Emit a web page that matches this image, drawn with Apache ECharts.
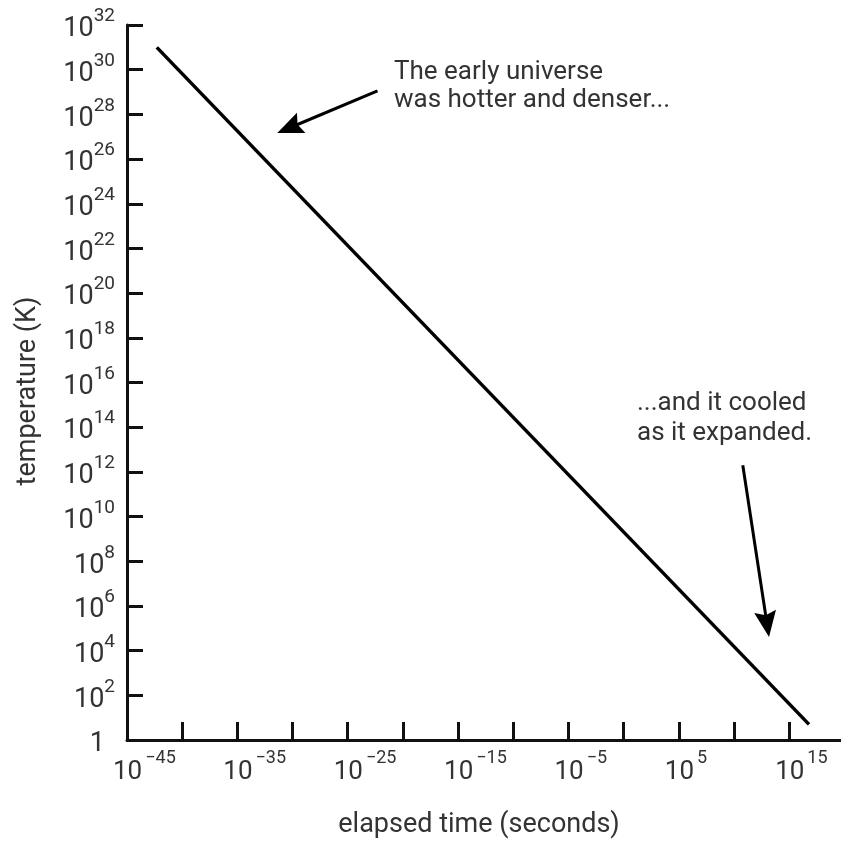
<!DOCTYPE html>
<html>
<head>
<meta charset="utf-8">
<script src="https://cdn.jsdelivr.net/npm/echarts@6/dist/echarts.min.js"></script>
<style>
  html, body { margin: 0; padding: 0; background: #fff; }
  #chart { width: 841px; height: 844px; }
</style>
</head>
<body>
<div id="chart"></div>
<script>
// exponents of ten (log10 of values)
var timeExp = [-42.3, 16.8];          // log10(elapsed time, s)
var tempExp = [31.0, 0.7];            // log10(temperature, K)
var xLabelExps = [-45, -35, -25, -15, -5, 5, 15];
var xTickExps = [-45, -40, -35, -30, -25, -20, -15, -10, -5, 0, 5, 10, 15];
// annotation arrows in (log10 t, log10 T): tail, arrow-head centre
var arrow1 = [[-22.3, 29.05], [-30.3, 27.39]];
var arrow2 = [[10.8, 12.3], [13.0, 5.18]];
var note1 = ['The early universe', 'was hotter and denser...'];
var note2 = ['...and it cooled', 'as it expanded.'];
var xTitle = 'elapsed time (seconds)';
var yTitle = 'temperature (K)';

var FONT = 'Roboto';
var TXT = '#333';
var W = 'normal';

function sup(n) { return String(n).replace('-', '\u2212'); }

var chart = echarts.init(document.getElementById('chart'));
var lineData = timeExp.map(function (t, i) { return [t, tempExp[i]]; });

chart.setOption({
  animation: false,
  backgroundColor: '#fff',
  grid: { left: 127, top: 25, right: 0, bottom: 104, containLabel: false },
  xAxis: {
    type: 'value', min: -45, max: 19.7,
    axisLine: { show: true, onZero: false, lineStyle: { color: '#111', width: 3 } },
    axisTick: { show: true, inside: true, length: 18, customValues: xTickExps,
      lineStyle: { color: '#111', width: 3 } },
    splitLine: { show: false },
    axisLabel: {
      customValues: xLabelExps,
      margin: 9,
      align: 'left',
      padding: [0, 0, 0, -14],
      formatter: function (v) { return '{b|10}{s|' + sup(v) + '}'; },
      rich: {
        b: { fontFamily: FONT, fontSize: 26, fontWeight: W, color: TXT, lineHeight: 36, verticalAlign: 'bottom' },
        s: { fontFamily: FONT, fontSize: 18, fontWeight: W, color: TXT, lineHeight: 16, verticalAlign: 'top', padding: [0, 0, 0, 3] }
      }
    }
  },
  yAxis: {
    type: 'value', min: 0, max: 32, interval: 2,
    axisLine: { show: true, onZero: false, lineStyle: { color: '#111', width: 3 } },
    axisTick: { show: true, inside: true, length: 16, lineStyle: { color: '#111', width: 3 } },
    splitLine: { show: false },
    axisLabel: {
      margin: 12,
      showMinLabel: true, showMaxLabel: true,
      formatter: function (v) {
        if (v === 0) return '{one|1}';
        return '{b|10}{s|' + sup(v) + '}';
      },
      rich: {
        b: { fontFamily: FONT, fontSize: 27, fontWeight: W, color: TXT, lineHeight: 36, verticalAlign: 'bottom', padding: [6, 0, 0, 0] },
        s: { fontFamily: FONT, fontSize: 19, fontWeight: W, color: TXT, lineHeight: 16, verticalAlign: 'top' },
        one: { fontFamily: FONT, fontSize: 27, fontWeight: W, color: TXT, lineHeight: 36, verticalAlign: 'bottom', padding: [6, 10, 0, 0] }
      }
    }
  },
  series: [{
    type: 'line',
    data: lineData,
    symbol: 'none',
    lineStyle: { color: '#000', width: 3.5 },
    silent: true,
    markLine: {
      silent: true,
      symbol: ['none', 'path://M10,0 L20,26 L10,22 L0,26 Z'],
      symbolSize: [22, 26],
      label: { show: false },
      lineStyle: { color: '#000', width: 3, type: 'solid' },
      data: [
        [{ coord: arrow1[0] }, { coord: arrow1[1] }],
        [{ coord: arrow2[0] }, { coord: arrow2[1] }]
      ]
    }
  }],
  graphic: [
    { type: 'text', left: 394, top: 58, style: { text: note1.join('\n'), font: W + ' 26px ' + FONT, fill: TXT, lineHeight: 28 } },
    { type: 'text', left: 637, top: 388, style: { text: note2.join('\n'), font: W + ' 26px ' + FONT, fill: TXT, lineHeight: 30 } },
    { type: 'text', x: 479, y: 825, style: { text: xTitle, font: W + ' 27px ' + FONT, fill: TXT, align: 'center', verticalAlign: 'middle' } },
    { type: 'text', x: 28, y: 391, rotation: Math.PI / 2, style: { text: yTitle, font: W + ' 27px ' + FONT, fill: TXT, align: 'center', verticalAlign: 'middle' } }
  ]
});
</script>
</body>
</html>
